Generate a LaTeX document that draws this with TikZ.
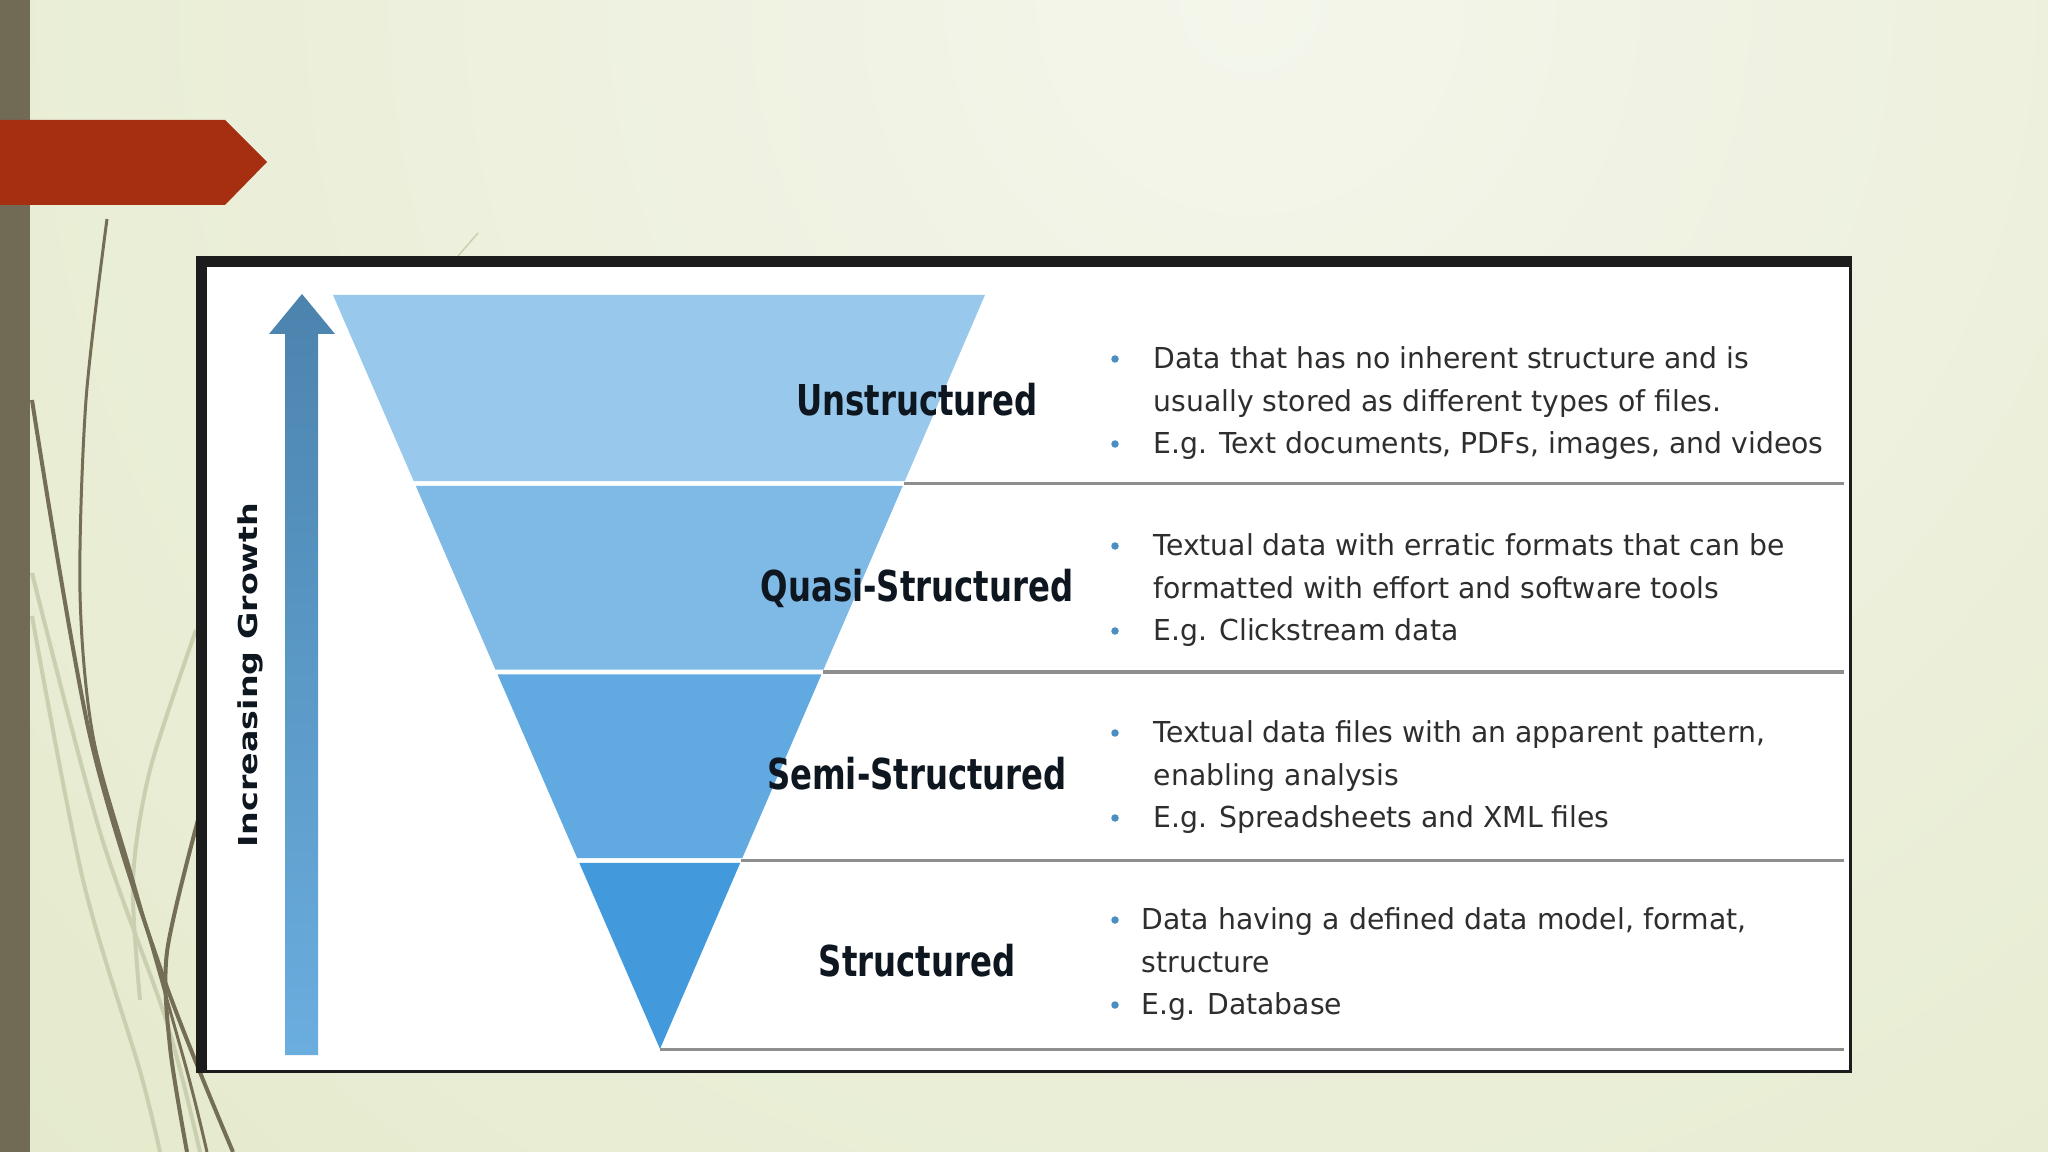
\documentclass[tikz,border=0pt]{standalone}
\usepackage{fontspec}
\setmainfont{DejaVu Sans}
\newfontfamily\lblfont[FakeStretch=0.76]{DejaVu Sans}
\newfontfamily\itemfont[FakeStretch=0.98]{DejaVu Sans}
\newfontfamily\axisfont[FakeStretch=1.28]{DejaVu Sans}
\usetikzlibrary{calc,positioning}
\definecolor{bglight}{HTML}{F4F6EB}
\definecolor{bgdark}{HTML}{E2E8C7}
\definecolor{barbrown}{HTML}{716A54}
\definecolor{redtab}{HTML}{A52F10}
\definecolor{curvebrown}{HTML}{756E57}
\definecolor{curvepale}{HTML}{CAD0AF}
\definecolor{frame}{HTML}{1C1C1C}
\definecolor{arrtop}{HTML}{4B83AD}
\definecolor{arrbot}{HTML}{6AAEDF}
\definecolor{funA}{HTML}{98C9EC}
\definecolor{funB}{HTML}{7FBAE7}
\definecolor{funC}{HTML}{60A9E1}
\definecolor{funD}{HTML}{429ADC}
\definecolor{sepgray}{HTML}{8E8E8E}
\definecolor{lbltext}{HTML}{0E1620}
\definecolor{itemtext}{HTML}{2E2E2E}
\definecolor{dotblue}{HTML}{4A8EC2}

\begin{document}
\begin{tikzpicture}[x=0.01cm, y=-0.01cm]
  \tikzset{
    lbl/.style={font=\lblfont\bfseries\fontsize{12.1}{14}\selectfont, text=lbltext, anchor=base, inner sep=0pt},
    item/.style={font=\itemfont\fontsize{8.2}{12.2}\selectfont, text=itemtext, align=left, anchor=north west, inner sep=0pt},
    dot/.style={circle, fill=dotblue, inner sep=0pt, minimum size=0.075cm},
    sepline/.style={draw=sepgray, line width=0.03cm},
    curvedark/.style={draw=curvebrown, line width=0.04cm},
    curvelight/.style={draw=curvepale, line width=0.04cm}
  }
  \useasboundingbox (0,0) rectangle (2048,1152);
  \fill[bgdark] (0,0) rectangle (2048,1152);
  \begin{scope}
    \clip (0,0) rectangle (2048,1152);
    \shade[inner color=bglight, outer color=bgdark] (1250,0) circle (20cm);
  \end{scope}

  \draw[curvelight] plot[smooth] coordinates {(32,573) (100,832) (167,1023) (200,1152)};
  \draw[curvelight] plot[smooth] coordinates {(32,616) (83,880) (140,1071) (160,1152)};
  \draw[curvelight] plot[smooth] coordinates {(196,630) (150,770) (133,880) (140,1000)};
  \draw[curvepale, line width=0.015cm] (478,233) -- (458,256);
  \draw[curvedark] plot[smooth] coordinates {(32,400) (90,736) (163,976) (233,1152)};
  \draw[curvedark, line width=0.03cm] plot[smooth] coordinates {(107,219) (86,400) (80,592) (93,736) (133,880) (187,1071) (207,1152)};
  \draw[curvedark] plot[smooth] coordinates {(198,820) (167,952) (170,1047) (187,1152)};

  \fill[barbrown] (0,0) rectangle (30,1152);
  \fill[redtab] (0,120) -- (225,120) -- (267,162) -- (225,205) -- (0,205) -- cycle;

  \fill[frame] (196,256) rectangle (1852,1073);
  \fill[white] (207,267) rectangle (1849,1070);

  \shade[top color=arrtop, bottom color=arrbot] (285,1055) -- (285,334) -- (269,334) -- (302,294)
    -- (335,334) -- (318,334) -- (318,1055) -- cycle;
  \node[font=\axisfont\bfseries\fontsize{7.4}{9}\selectfont, text=lbltext, rotate=90, anchor=base,
    inner sep=0pt] (growth) at (257,675) {Increasing Growth};

  \coordinate (tl) at (333,295);
  \coordinate (tr) at (985,295);
  \coordinate (ap) at (660,1049);
  \coordinate (rend) at (1844,0);
  \foreach \c [count=\i from 0] in {funA,funB,funC,funD} {
    \pgfmathsetmacro\ta{\i*0.25+0.0033*(\i>0)}
    \pgfmathsetmacro\tb{\i*0.25+0.25-0.0033*(\i<3)}
    \fill[\c] ($(tl)!\ta!(ap)$) -- ($(tr)!\ta!(ap)$) -- ($(tr)!\tb!(ap)$) -- ($(tl)!\tb!(ap)$) -- cycle;
  }
  \foreach \t in {0.25,0.5,0.75,1}
    \draw[sepline] ($(tr)!\t!(ap)$) coordinate (s) -- (s -| rend);

  \foreach \n/\y/\txt in {uns/416/Unstructured, qua/602/Quasi-Structured, sem/789/Semi-Structured, str/976/Structured}
    \node[lbl] (\n) at (917,\y) {\txt};

  \node[item] (u1) at (1153,346) {Data that has no inherent structure and is\\usually stored as different types of files.};
  \node[item] (u2) at (1153,431) {E.g. Text documents, PDFs, images, and videos};
  \node[item] (q1) at (1153,533) {Textual data with erratic formats that can be\\formatted with effort and software tools};
  \node[item] (q2) at (1153,618) {E.g. Clickstream data};
  \node[item] (s1) at (1153,720) {Textual data files with an apparent pattern,\\enabling analysis};
  \node[item] (s2) at (1153,805) {E.g. Spreadsheets and XML files};
  \node[item] (d1) at (1141,907) {Data having a defined data model, format,\\structure};
  \node[item] (d2) at (1141,992) {E.g. Database};
  \foreach \n in {u1,u2,q1,q2,s1,s2}
    \node[dot] (\n-b) at ([shift={(-38,13)}]\n.north west) {};
  \foreach \n in {d1,d2}
    \node[dot] (\n-b) at ([shift={(-26,13)}]\n.north west) {};
\end{tikzpicture}
\end{document}
